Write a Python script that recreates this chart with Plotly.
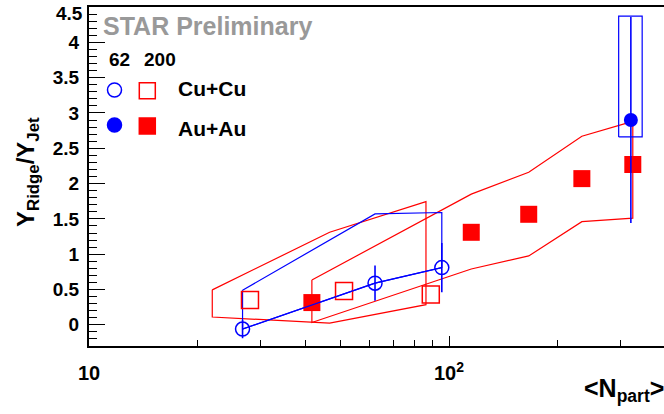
import plotly.graph_objects as go

# ---------------- data ----------------
# Cu+Cu 62 GeV (open blue circles)
cu62_npart = [26.7, 62.3, 95.5]
cu62_ratio = [-0.06, 0.59, 0.81]
cu62_stat = [0.13, 0.25, 0.35]
cu62_sys_hi = [0.49, 1.57, 1.59]

# Au+Au 62 GeV (filled blue circle)
au62_npart = [320.0]
au62_ratio = [2.90]
au62_stat = [1.46]
au62_sys_lo = [2.66]
au62_sys_hi = [4.37]
au62_box_npart = [296.0, 344.0]

# Cu+Cu 200 GeV (open red squares)
cu200_npart = [28.0, 51.1, 89.0]
cu200_ratio = [0.35, 0.48, 0.43]
cu200_band_npart = [22.0, 46.6, 86.3]
cu200_band_hi = [0.495, 1.31, 1.745]
cu200_band_lo = [0.11, 0.025, 0.285]

# Au+Au 200 GeV (filled red squares)
au200_npart = [41.6, 115.3, 166.5, 233.9, 324.0]
au200_ratio = [0.315, 1.31, 1.565, 2.07, 2.27]
au200_band_hi = [0.635, 1.85, 2.16, 2.67, 2.88]
au200_band_lo = [0.033, 0.79, 0.975, 1.46, 1.51]

x_major = [10, 100]
x_major_text = ["10", "10<sup>2</sup>"]
x_minor = [20, 30, 40, 50, 60, 70, 80, 90, 200, 300, 400]
y_ticks = [0, 0.5, 1, 1.5, 2, 2.5, 3, 3.5, 4, 4.5]
y_tick_text = ["0", "0.5", "1", "1.5", "2", "2.5", "3", "3.5", "4", ""]
y_top_label = "4.5"

RED = "#ff0000"
BLUE = "#0000ff"
FONT = "Liberation Sans, Arial, Helvetica, sans-serif"

W, H = 664, 414
L, R, T, B = 89, 0, 7, 68


def closed(xs_top, ys_top, xs_bot, ys_bot):
    xs = list(xs_top) + list(reversed(xs_bot)) + [xs_top[0]]
    ys = list(ys_top) + list(reversed(ys_bot)) + [ys_top[0]]
    return xs, ys


fig = go.Figure()

# systematic bands
bx, by = closed(au200_npart, au200_band_hi, au200_npart, au200_band_lo)
fig.add_trace(go.Scatter(x=bx, y=by, mode="lines", line=dict(color=RED, width=1.2), hoverinfo="skip"))

bx, by = closed(cu200_band_npart, cu200_band_hi, cu200_band_npart, cu200_band_lo)
fig.add_trace(go.Scatter(x=bx, y=by, mode="lines", line=dict(color=RED, width=1.2), hoverinfo="skip"))

bx, by = closed(cu62_npart, cu62_sys_hi, cu62_npart, cu62_ratio)
fig.add_trace(go.Scatter(x=bx, y=by, mode="lines", line=dict(color=BLUE, width=1.2), hoverinfo="skip"))

bx = [au62_box_npart[0], au62_box_npart[1], au62_box_npart[1], au62_box_npart[0], au62_box_npart[0]]
by = [au62_sys_lo[0], au62_sys_lo[0], au62_sys_hi[0], au62_sys_hi[0], au62_sys_lo[0]]
fig.add_trace(go.Scatter(x=bx, y=by, mode="lines", line=dict(color=BLUE, width=1.2), hoverinfo="skip"))

# red points
fig.add_trace(go.Scatter(x=cu200_npart, y=cu200_ratio, mode="markers",
                         marker=dict(symbol="square-open", size=17, color=RED, line=dict(width=1.5, color=RED))))
fig.add_trace(go.Scatter(x=au200_npart, y=au200_ratio, mode="markers",
                         marker=dict(symbol="square", size=17, color=RED, line=dict(width=0))))

# blue points
fig.add_trace(go.Scatter(x=cu62_npart, y=cu62_ratio, mode="lines+markers",
                         line=dict(color=BLUE, width=1.2),
                         marker=dict(symbol="circle-open", size=14, color=BLUE, line=dict(width=1.5, color=BLUE)),
                         error_y=dict(type="data", array=cu62_stat, color=BLUE, thickness=1.6, width=0)))
fig.add_trace(go.Scatter(x=au62_npart, y=au62_ratio, mode="markers",
                         marker=dict(symbol="circle", size=14, color=BLUE, line=dict(width=0)),
                         error_y=dict(type="data", array=au62_stat, color=BLUE, thickness=1.6, width=0)))

# ---------------- legend / text ----------------
def px2paper(px, py):
    return (px - L) / (W - L - R), (H - B - py) / (H - T - B)


anns = []
def add_text(text, px, py, size, color="black", xanchor="left", angle=0):
    xp, yp = px2paper(px, py)
    anns.append(dict(text=text, x=xp, y=yp, xref="paper", yref="paper", showarrow=False,
                     xanchor=xanchor, yanchor="middle", textangle=angle,
                     font=dict(family=FONT, size=size, color=color, weight="bold")))

add_text("STAR Preliminary", 101, 26, 25, color="#999999")
add_text("62", 107, 59, 19)
add_text("200", 142, 59, 19)
add_text("Cu+Cu", 176, 89, 21)
add_text("Au+Au", 176, 128, 21)
add_text("Y<sub>Ridge</sub>/Y<sub>Jet</sub>", 27, 172, 24, xanchor="center", angle=-90)
add_text("&lt;N<sub>part</sub>&gt;", 582, 390, 25)
add_text(y_top_label, 85, 13, 19, xanchor="right")

shapes = []
def key_marker(kind, px, py, color, filled, half):
    xp, yp = px2paper(px, py)
    shapes.append(dict(type=kind, xref="paper", yref="paper", xsizemode="pixel", ysizemode="pixel",
                       xanchor=xp, yanchor=yp, x0=-half, x1=half, y0=-half, y1=half,
                       line=dict(color=color, width=1.5),
                       fillcolor=color if filled else "rgba(0,0,0,0)"))

key_marker("circle", 114.5, 90, BLUE, False, 7)
key_marker("rect", 147.3, 90.7, RED, False, 8)
key_marker("circle", 114.5, 125, BLUE, True, 7)
key_marker("rect", 147.3, 126, RED, True, 8)

fig.update_layout(
    width=W, height=H, margin=dict(l=L, r=R, t=T, b=B, pad=0, autoexpand=False),
    paper_bgcolor="white", plot_bgcolor="white", showlegend=False,
    annotations=anns, shapes=shapes,
    font=dict(family=FONT, color="black"),
)

fig.update_xaxes(type="log", range=[1, 2.5972], tickmode="array", tickvals=x_major, ticktext=x_major_text,
                 ticks="inside", ticklen=10, tickwidth=1, tickcolor="black",
                 minor=dict(tickmode="array", tickvals=x_minor, ticks="inside", ticklen=6, tickwidth=1, tickcolor="black"),
                 showline=True, linewidth=2, linecolor="black", mirror=True, automargin=False,
                 showgrid=False, zeroline=False, ticklabelstandoff=8, ticklabeloverflow="allow",
                 tickfont=dict(family=FONT, size=20, weight="bold", color="black"))
fig.update_yaxes(range=[-0.3, 4.5001], tickmode="array", tickvals=y_ticks, ticktext=y_tick_text,
                 ticks="inside", ticklen=16, tickwidth=1, tickcolor="black",
                 minor=dict(tick0=0, dtick=0.1, ticks="inside", ticklen=8, tickwidth=1, tickcolor="black"),
                 showline=True, linewidth=2, linecolor="black", mirror=False, automargin=False,
                 showgrid=False, zeroline=False, ticklabelstandoff=4, ticklabeloverflow="allow",
                 tickfont=dict(family=FONT, size=19, weight="bold", color="black"))

fig.write_html("out.html", config={"displayModeBar": False},
               post_script="document.body.style.margin='0';document.body.style.overflow='hidden';")
